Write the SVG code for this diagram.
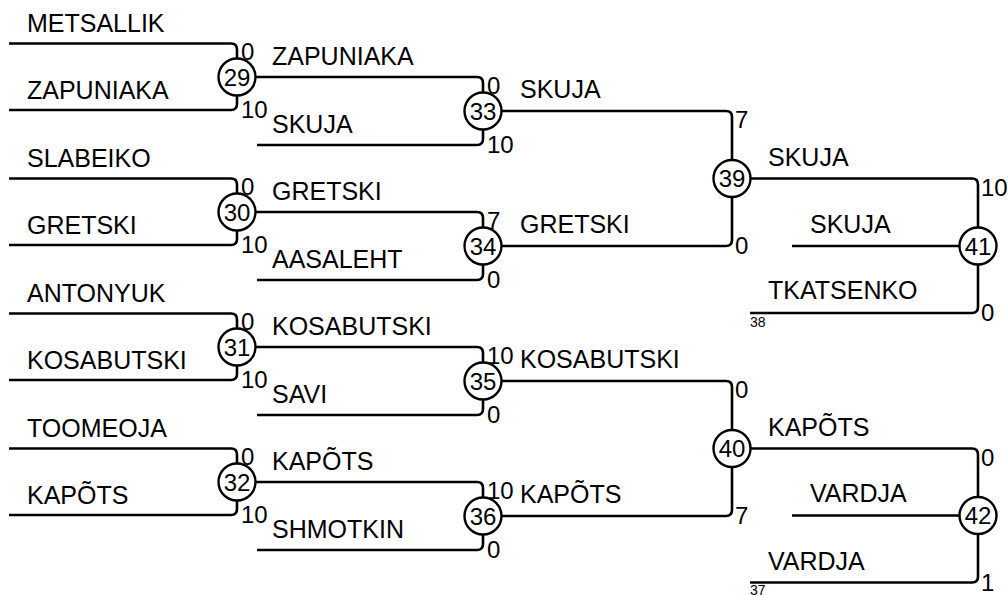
<svg xmlns="http://www.w3.org/2000/svg" width="1008" height="595" viewBox="0 0 1008 595">
<style>
.c{fill:none;stroke:#000;stroke-width:2.6}
.n circle{fill:#fff;stroke:#000;stroke-width:2.4}
.n text{font-family:"Liberation Sans",Arial,sans-serif;font-size:24px;text-anchor:middle;fill:#000}
.l{font-family:"Liberation Sans",Arial,sans-serif;font-size:25px;fill:#000}
.s{font-family:"Liberation Sans",Arial,sans-serif;font-size:24px;fill:#000}
.m{font-family:"Liberation Sans",Arial,sans-serif;font-size:14px;fill:#000}
</style>
<rect width="1008" height="595" fill="#fff"/>
<g id="connectors">
<path class="c" d="M9,43.5 H231 Q237,43.5 237,49.5 V58.5 M9,110 H231 Q237,110 237,104 V95.5"/>
<path class="c" d="M9,178.5 H231 Q237,178.5 237,184.5 V193.5 M9,245 H231 Q237,245 237,239 V230.5"/>
<path class="c" d="M9,313.5 H231 Q237,313.5 237,319.5 V328.5 M9,380 H231 Q237,380 237,374 V365.5"/>
<path class="c" d="M9,448.5 H231 Q237,448.5 237,454.5 V463.5 M9,515 H231 Q237,515 237,509 V500.5"/>
<path class="c" d="M255.5,77 H477 Q483,77 483,83 V92.5 M257,145 H477 Q483,145 483,139 V129.5"/>
<path class="c" d="M255.5,212 H477 Q483,212 483,218 V227.5 M257,280 H477 Q483,280 483,274 V264.5"/>
<path class="c" d="M255.5,347 H477 Q483,347 483,353 V362.5 M257,415 H477 Q483,415 483,409 V399.5"/>
<path class="c" d="M255.5,482 H477 Q483,482 483,488 V497.5 M257,550 H477 Q483,550 483,544 V534.5"/>
<path class="c" d="M501.5,111 H726 Q732,111 732,117 V160 M501.5,246 H726 Q732,246 732,240 V197"/>
<path class="c" d="M501.5,381 H726 Q732,381 732,387 V430 M501.5,516 H726 Q732,516 732,510 V467"/>
<path class="c" d="M750.5,178.5 H972 Q978,178.5 978,184.5 V227.5 M792,246 H959.5 M750,313 H972 Q978,313 978,307 V264.5"/>
<path class="c" d="M750.5,448.5 H972 Q978,448.5 978,454.5 V497 M792,515.5 H959.5 M750,582.5 H972 Q978,582.5 978,576.5 V534"/>
</g>
<g id="labels">
<text class="l" x="27" y="32">METSALLIK</text>
<text class="l" x="27" y="99">ZAPUNIAKA</text>
<text class="l" x="27" y="167">SLABEIKO</text>
<text class="l" x="27" y="234">GRETSKI</text>
<text class="l" x="27" y="302">ANTONYUK</text>
<text class="l" x="27" y="369">KOSABUTSKI</text>
<text class="l" x="27" y="437">TOOMEOJA</text>
<text class="l" x="27" y="504">KAPÕTS</text>
<text class="l" x="272" y="65">ZAPUNIAKA</text>
<text class="l" x="272" y="133">SKUJA</text>
<text class="l" x="272" y="200">GRETSKI</text>
<text class="l" x="272" y="268">AASALEHT</text>
<text class="l" x="272" y="335">KOSABUTSKI</text>
<text class="l" x="272" y="403">SAVI</text>
<text class="l" x="272" y="470">KAPÕTS</text>
<text class="l" x="272" y="538">SHMOTKIN</text>
<text class="l" x="520" y="98">SKUJA</text>
<text class="l" x="520" y="233">GRETSKI</text>
<text class="l" x="520" y="368">KOSABUTSKI</text>
<text class="l" x="520" y="503">KAPÕTS</text>
<text class="l" x="768" y="166">SKUJA</text>
<text class="l" x="810" y="233">SKUJA</text>
<text class="l" x="768" y="299">TKATSENKO</text>
<text class="m" x="750" y="327">38</text>
<text class="l" x="768" y="436">KAPÕTS</text>
<text class="l" x="810" y="502">VARDJA</text>
<text class="l" x="768" y="570">VARDJA</text>
<text class="m" x="750" y="594.5">37</text>
</g>
<g id="scores">
<text class="s" x="241" y="60">0</text><text class="s" x="241" y="118">10</text>
<text class="s" x="241" y="195">0</text><text class="s" x="241" y="253">10</text>
<text class="s" x="241" y="330">0</text><text class="s" x="241" y="388">10</text>
<text class="s" x="241" y="465">0</text><text class="s" x="241" y="523">10</text>
<text class="s" x="487" y="94">0</text><text class="s" x="487" y="153">10</text>
<text class="s" x="487" y="229">7</text><text class="s" x="487" y="288">0</text>
<text class="s" x="487" y="364">10</text><text class="s" x="487" y="423">0</text>
<text class="s" x="487" y="499">10</text><text class="s" x="487" y="558">0</text>
<text class="s" x="735" y="128">7</text><text class="s" x="735" y="254">0</text>
<text class="s" x="735" y="398">0</text><text class="s" x="735" y="524">7</text>
<text class="s" x="981" y="196">10</text><text class="s" x="981" y="321">0</text>
<text class="s" x="981" y="466">0</text><text class="s" x="981" y="591">1</text>
</g>
<g id="n29" class="n"><circle cx="237" cy="77" r="18.5"/><text x="237" y="85.5">29</text></g>
<g id="n30" class="n"><circle cx="237" cy="212" r="18.5"/><text x="237" y="220.5">30</text></g>
<g id="n31" class="n"><circle cx="237" cy="347" r="18.5"/><text x="237" y="355.5">31</text></g>
<g id="n32" class="n"><circle cx="237" cy="482" r="18.5"/><text x="237" y="490.5">32</text></g>
<g id="n33" class="n"><circle cx="483" cy="111" r="18.5"/><text x="483" y="119.5">33</text></g>
<g id="n34" class="n"><circle cx="483" cy="246" r="18.5"/><text x="483" y="254.5">34</text></g>
<g id="n35" class="n"><circle cx="483" cy="381" r="18.5"/><text x="483" y="389.5">35</text></g>
<g id="n36" class="n"><circle cx="483" cy="516" r="18.5"/><text x="483" y="524.5">36</text></g>
<g id="n39" class="n"><circle cx="732" cy="178.5" r="18.5"/><text x="732" y="187">39</text></g>
<g id="n40" class="n"><circle cx="732" cy="448.5" r="18.5"/><text x="732" y="457">40</text></g>
<g id="n41" class="n"><circle cx="978" cy="246" r="18.5"/><text x="978" y="254.5">41</text></g>
<g id="n42" class="n"><circle cx="978" cy="515.5" r="18.5"/><text x="978" y="524">42</text></g>
</svg>
